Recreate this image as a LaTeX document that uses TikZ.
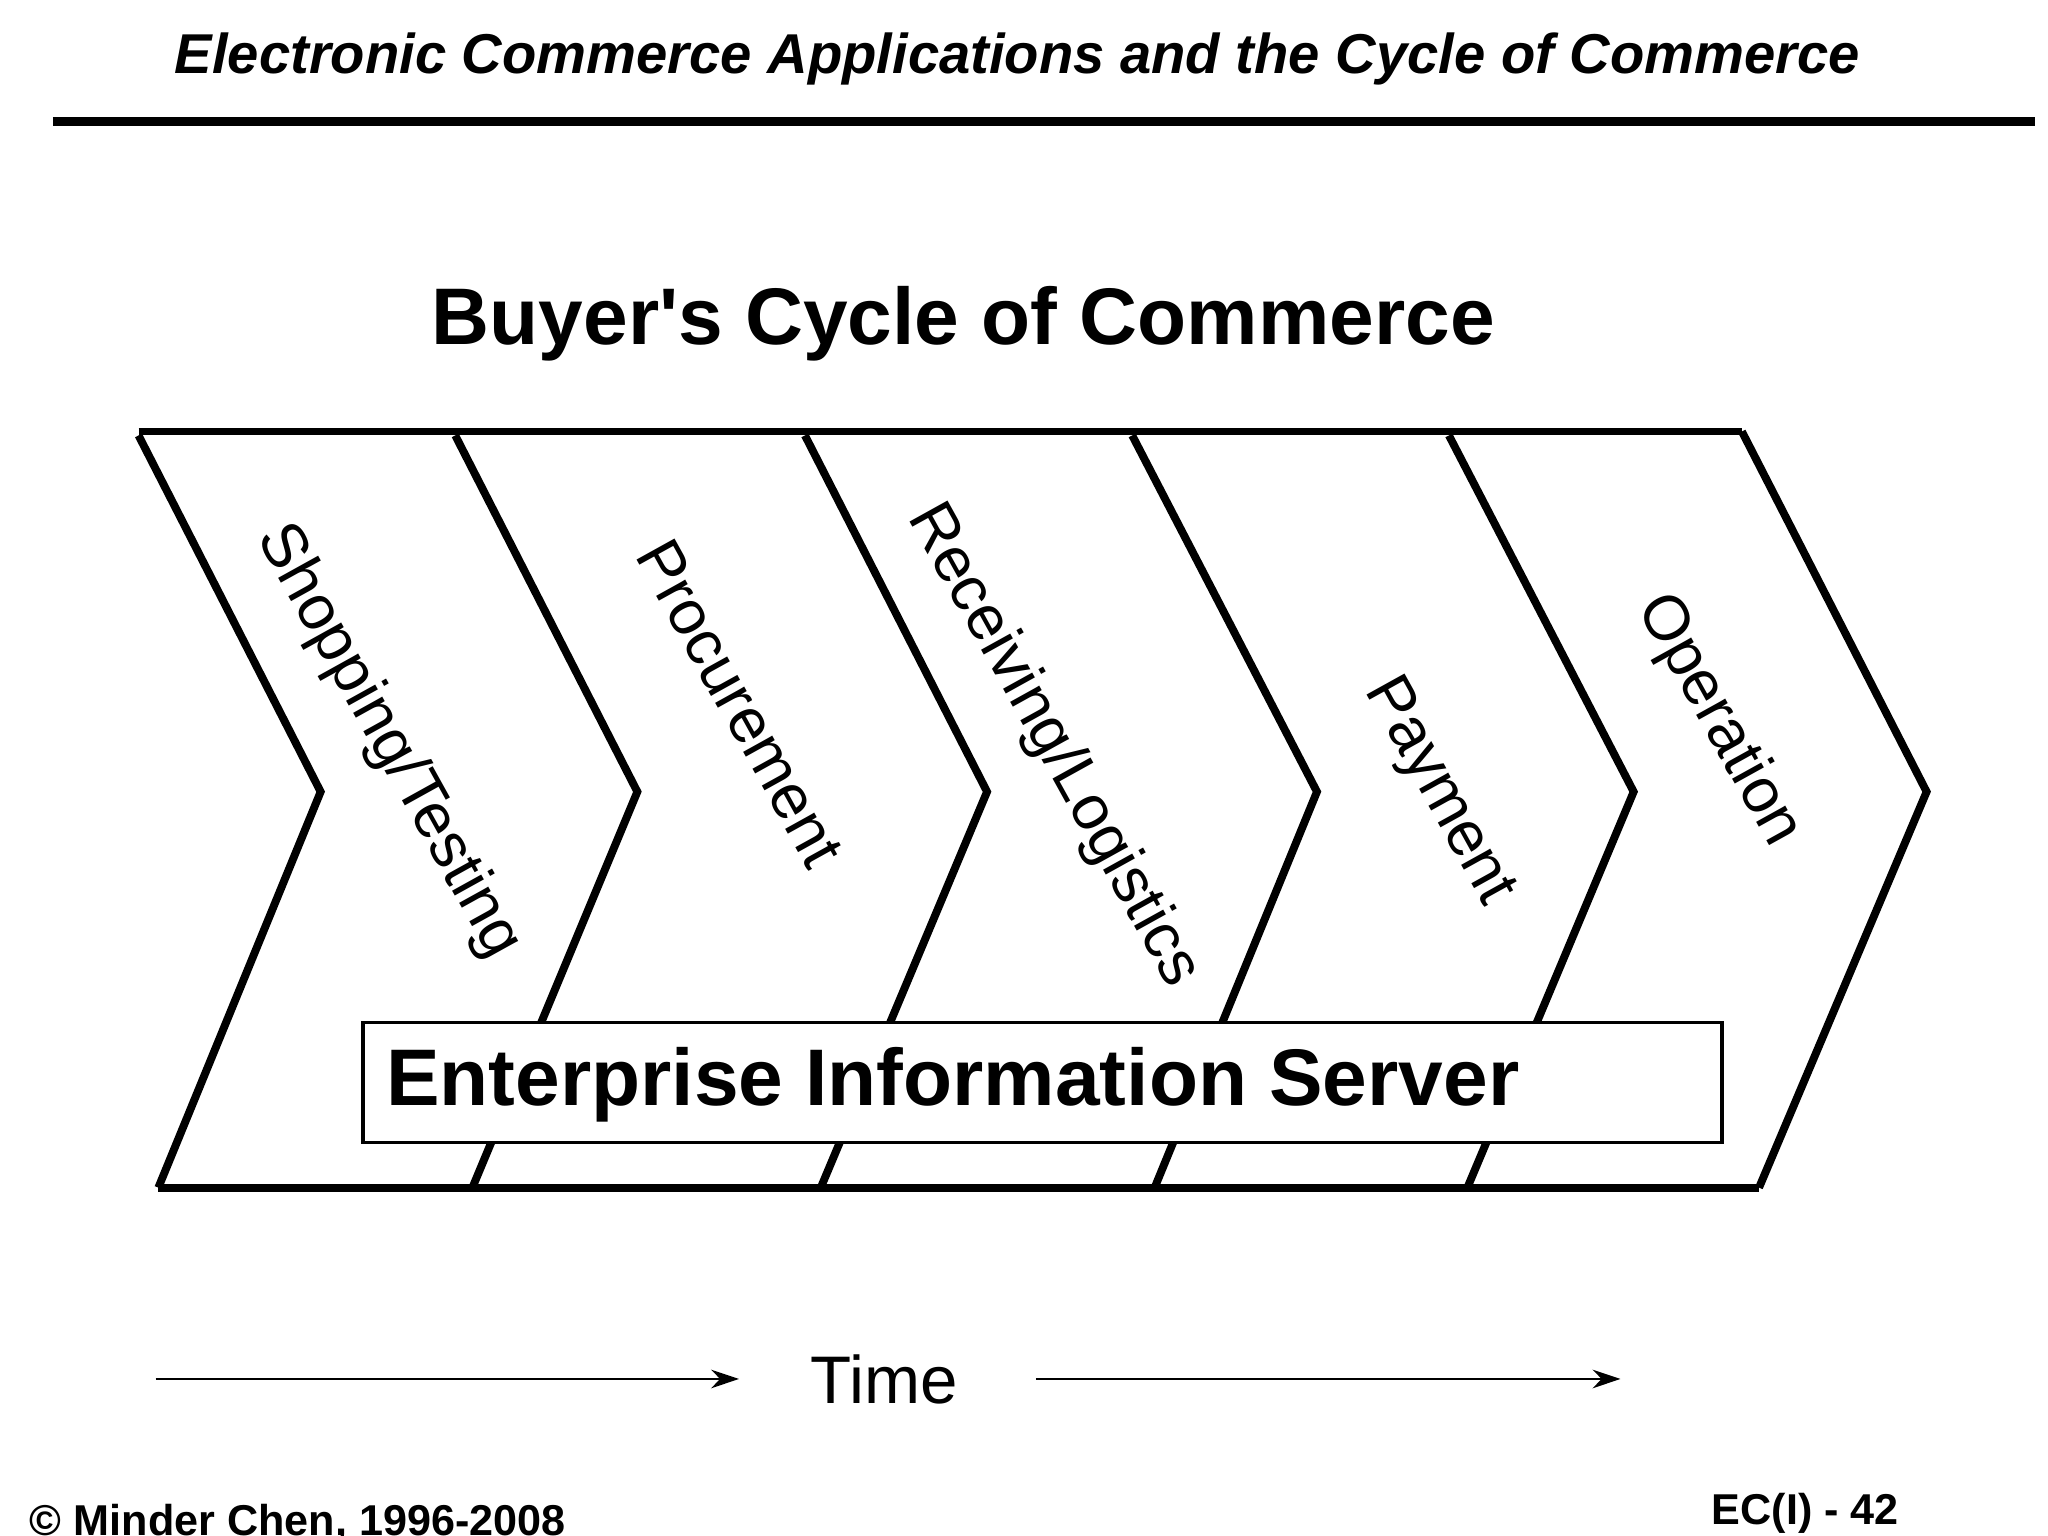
\documentclass[tikz,border=0pt]{standalone}
\usepackage{fontspec}
\setmainfont{Liberation Sans}
\usetikzlibrary{arrows.meta}
\begin{document}
\begin{tikzpicture}[x=0.01cm,y=-0.01cm,
  chev/.style={line width=1.7pt,line join=miter},
  lbl/.style={font=\fontsize{13.6}{16}\selectfont,rotate=-61,inner sep=0},
  arr/.style={line width=0.6pt,-{Stealth[length=6pt,width=4pt]}}]
\useasboundingbox (0,0) rectangle (1552,1164);
\node[font=\bfseries\itshape\fontsize{12.1}{14}\selectfont] (hdr) at (771,45) {Electronic Commerce Applications and the Cycle of Commerce};
\draw[line width=2pt] (40,92) -- (1542,92);
\node[font=\bfseries\fontsize{17.3}{20}\selectfont] (ttl) at (730,245) {Buyer\textquotesingle s Cycle of Commerce};
% chevrons
\draw[chev] (105,327) -- (1320,327);
\draw[chev] (120,900) -- (1333,900);
\draw[chev] (105,330) -- (243,600) -- (120,900);
\draw[chev] (345,330) -- (483,600) -- (358,900);
\draw[chev] (610,330) -- (748,600) -- (622,900);
\draw[chev] (858,330) -- (998,600) -- (875,900);
\draw[chev] (1098,330) -- (1238,600) -- (1112,900);
\draw[chev] (1320,327) -- (1460,600) -- (1333,900);
\node[lbl] (s1) at (294,562) {Shopping/Testing};
\node[lbl] (s2) at (561,533) {Procurement};
\node[lbl] (s3) at (798,565) {Receiving/Logistics};
\node[lbl] (s4) at (1090,600) {Payment};
\node[lbl] (s5) at (1302,546) {Operation};
\draw[fill=white,line width=0.7pt] (275,775) rectangle (1305,866);
\node[anchor=west,font=\bfseries\fontsize{17.3}{20}\selectfont,inner sep=0] (eis) at (292,822) {Enterprise Information Server};
\node[font=\fontsize{14.5}{17}\selectfont] (time) at (670,1045) {Time};
\coordinate (a1) at (118,1045);
\coordinate (a2) at (1228,1045);
\draw[arr] (a1) -- (560,1045);
\draw[arr] (785,1045) -- (a2);
\node[anchor=west,font=\bfseries\fontsize{9.3}{11}\selectfont,inner sep=0] (cp) at (22,1154) {© Minder Chen, 1996-2008};
\node[font=\bfseries\fontsize{9.3}{11}\selectfont,inner sep=0] (pg) at (1368,1147) {EC(I) - 42};
\end{tikzpicture}
\end{document}
